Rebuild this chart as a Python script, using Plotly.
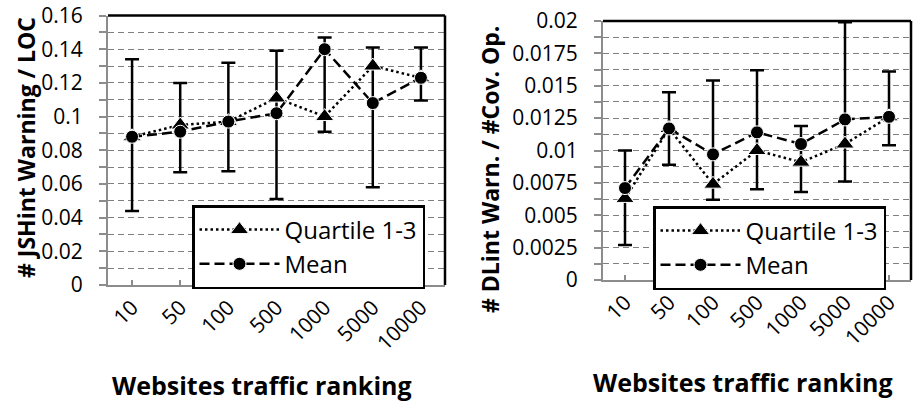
import plotly.graph_objects as go

# ---------------- data ----------------
categories = ["10", "50", "100", "500", "1000", "5000", "10000"]

# Left chart: JSHint warnings / LOC
js_quartile = [0.088, 0.095, 0.097, 0.111, 0.100, 0.130, 0.123]
js_mean = [0.088, 0.091, 0.097, 0.102, 0.140, 0.108, 0.123]
js_bar_high = [0.134, 0.120, 0.132, 0.139, 0.147, 0.141, 0.141]
js_bar_low = [0.044, 0.067, 0.0675, 0.051, 0.091, 0.058, 0.1095]

# Right chart: DLint warnings / #covered operations
dl_quartile = [0.0063, 0.0117, 0.0074, 0.0100, 0.0091, 0.0105, 0.0126]
dl_mean = [0.0071, 0.0117, 0.0097, 0.0114, 0.0105, 0.0124, 0.0126]
dl_bar_high = [0.0100, 0.0145, 0.0154, 0.0162, 0.0119, 0.0199, 0.0161]
dl_bar_low = [0.0027, 0.0089, 0.0062, 0.0070, 0.0068, 0.0076, 0.0104]

y1_ticks = [0, 0.02, 0.04, 0.06, 0.08, 0.1, 0.12, 0.14, 0.16]
y1_labels = ["0", "0.02", "0.04", "0.06", "0.08", "0.1", "0.12", "0.14", "0.16"]
y2_ticks = [0, 0.0025, 0.005, 0.0075, 0.01, 0.0125, 0.015, 0.0175, 0.02]
y2_labels = ["0", "0.0025", "0.005", "0.0075", "0.01", "0.0125", "0.015", "0.0175", "0.02"]

FONT = "Open Sans"
GRAY = "#8c8c8c"
GRID = "#7f7f7f"

fig = go.Figure()


def add_chart(xa, ya, quart, mean, hi, lo, legend):
    err_plus = [h - m for h, m in zip(hi, mean)]
    err_minus = [m - l for m, l in zip(mean, lo)]
    # error bars (range)
    fig.add_trace(go.Scatter(
        x=categories, y=mean, xaxis=xa, yaxis=ya, mode="markers",
        marker=dict(size=1, color="rgba(0,0,0,0)"),
        error_y=dict(type="data", symmetric=False, array=err_plus,
                     arrayminus=err_minus, color="black", thickness=2.5, width=7),
        showlegend=False, hoverinfo="skip"))
    fig.add_trace(go.Scatter(
        x=categories, y=quart, xaxis=xa, yaxis=ya, mode="lines+markers",
        name="Quartile 1-3", legend=legend,
        line=dict(color="black", width=2.5, dash="2.5px,3px"),
        marker=dict(symbol="triangle-up", size=16, color="black",
                    line=dict(color="white", width=1))))
    fig.add_trace(go.Scatter(
        x=categories, y=mean, xaxis=xa, yaxis=ya, mode="lines+markers",
        name="Mean", legend=legend,
        line=dict(color="black", width=2.5, dash="10px,5px"),
        marker=dict(symbol="circle", size=13, color="black",
                    line=dict(color="white", width=1))))


add_chart("x", "y", js_quartile, js_mean, js_bar_high, js_bar_low, "legend")
add_chart("x2", "y2", dl_quartile, dl_mean, dl_bar_high, dl_bar_low, "legend2")

W, H = 914, 402
L1, R1, T1, B1 = 108, 445, 15.5, 285
L2, R2, T2, B2 = 603, 911, 21, 280

xcommon = dict(type="category", range=[-0.5, 6.5], showline=True, linecolor=GRAY,
               linewidth=2, ticks="inside", ticklen=5, tickcolor=GRAY, tickwidth=2,
               tickangle=-45, showgrid=False, zeroline=False, automargin=False,
               tickfont=dict(family=FONT, size=21, color="black"),
               ticklabelstandoff=0)


def ycommon(ticks, labels, dmin):
    return dict(tickmode="array", tickvals=ticks, ticktext=labels,
                range=[0, ticks[-1]], showline=True, linecolor=GRAY, linewidth=2,
                ticks="outside", ticklen=7, tickcolor=GRAY, tickwidth=1.5,
                showgrid=True, gridcolor=GRID, gridwidth=1, griddash="6px,4px",
                zeroline=False, automargin=False,
                minor=dict(dtick=dmin, showgrid=True, gridcolor=GRID,
                           griddash="6px,4px", gridwidth=1, ticks="outside",
                           ticklen=7, tickcolor=GRAY),
                tickfont=dict(family=FONT, size=21, color="black"),
                ticklabelstandoff=12)


legend_common = dict(xanchor="left", yanchor="top", bgcolor="white",
                     bordercolor="black", borderwidth=2.5, itemwidth=80,
                     font=dict(family=FONT, size=24, color="black"))

fig.update_layout(
    width=W, height=H, margin=dict(l=0, r=0, t=0, b=0, autoexpand=False),
    paper_bgcolor="white", plot_bgcolor="white",
    font=dict(family=FONT, color="black"),
    xaxis=dict(domain=[L1 / W, R1 / W], anchor="y", **xcommon),
    yaxis=dict(domain=[1 - B1 / H, 1 - T1 / H], anchor="x",
               **ycommon(y1_ticks, y1_labels, 0.01)),
    xaxis2=dict(domain=[L2 / W, R2 / W], anchor="y2", **xcommon),
    yaxis2=dict(domain=[1 - B2 / H, 1 - T2 / H], anchor="x2",
                **ycommon(y2_ticks, y2_labels, 0.00125)),
    legend=dict(x=192 / W, y=1 - 205 / H, **legend_common),
    legend2=dict(x=653 / W, y=1 - 206 / H, **legend_common),
    showlegend=True,
)

# black plot-area border (top & right)
for xr, yr in (("x", "y"), ("x2", "y2")):
    fig.add_shape(type="line", xref=f"{xr} domain", yref=f"{yr} domain",
                  x0=0, x1=1, y0=1, y1=1, line=dict(color="black", width=2.5))
    fig.add_shape(type="line", xref=f"{xr} domain", yref=f"{yr} domain",
                  x0=1, x1=1, y0=0, y1=1, line=dict(color="black", width=2.5))

# axis titles
common_ann = dict(xref="paper", yref="paper", showarrow=False,
                  xanchor="center", yanchor="middle")
fig.add_annotation(text="<b># JSHint Warning / LOC</b>", x=26 / W, y=1 - 148 / H,
                   textangle=-90, font=dict(family=FONT, size=23, color="black"),
                   **common_ann)
fig.add_annotation(text="<b># DLint Warn. / #Cov. Op.</b>", x=490 / W, y=1 - 170 / H,
                   textangle=-90, font=dict(family=FONT, size=23, color="black"),
                   **common_ann)
fig.add_annotation(text="<b>Websites traffic ranking</b>", x=262 / W, y=1 - 385 / H,
                   font=dict(family=FONT, size=25, color="black"), **common_ann)
fig.add_annotation(text="<b>Websites traffic ranking</b>", x=743 / W, y=1 - 382 / H,
                   font=dict(family=FONT, size=25, color="black"), **common_ann)

fig.write_html("out.html", config={"displayModeBar": False},
               post_script="document.body.style.margin='0';document.body.style.padding='0';")
